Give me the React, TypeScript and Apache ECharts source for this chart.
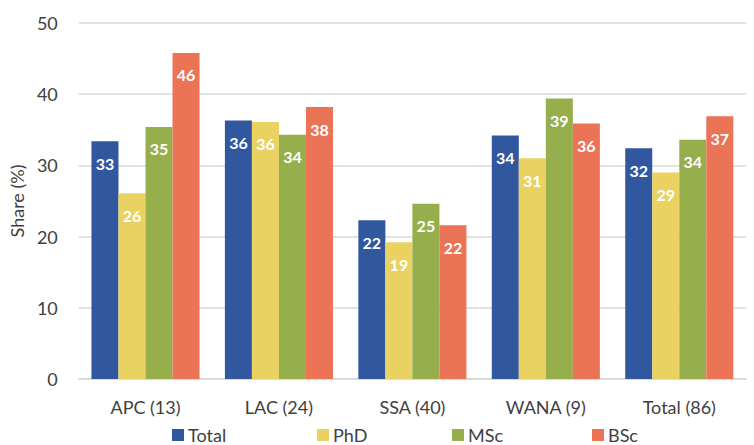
import React, { useEffect, useRef } from "react";
import * as echarts from "echarts";

const regions = ["APC (13)", "LAC (24)", "SSA (40)", "WANA (9)", "Total (86)"];
const totalShare = [33.4, 36.3, 22.3, 34.2, 32.4];
const phdShare = [26.1, 36.1, 19.2, 31.0, 29.0];
const mscShare = [35.4, 34.3, 24.6, 39.4, 33.6];
const bscShare = [45.8, 38.2, 21.6, 35.9, 36.9];

const seriesNames = ["Total", "PhD", "MSc", "BSc"];
const seriesColors = ["#31589F", "#E9D262", "#97AE4C", "#EB7356"];
const legendLeft = [172, 317, 452, 592];

const FONT = "Lato, 'Open Sans', sans-serif";
const TEXT = "#404040";

export default function App() {
  const ref = useRef<HTMLDivElement>(null);

  useEffect(() => {
    if (!ref.current) return;
    const chart = echarts.init(ref.current, undefined, { renderer: "svg" });
    const values = [totalShare, phdShare, mscShare, bscShare];

    chart.setOption({
      animation: false,
      textStyle: { fontFamily: FONT },
      grid: { left: 76, right: 8, top: 23, bottom: 66 },
      legend: seriesNames.map((name, i) => ({
        data: [name],
        top: 426,
        left: legendLeft[i],
        padding: 0,
        itemWidth: 12,
        itemHeight: 12,
        itemGap: 5,
        icon: "rect",
        selectedMode: false,
        textStyle: {
          fontSize: 18,
          lineHeight: 17,
          color: TEXT,
          fontFamily: FONT,
          padding: [0, 0, 0, -1],
        },
      })),
      xAxis: {
        type: "category",
        data: regions,
        axisTick: { show: false },
        axisLine: { lineStyle: { color: "#D9D9D9", width: 1.5 } },
        axisLabel: { fontSize: 18, color: TEXT, margin: 19, fontFamily: FONT },
      },
      yAxis: {
        type: "value",
        min: 0,
        max: 50,
        interval: 10,
        name: "Share (%)",
        nameLocation: "middle",
        nameGap: 46,
        nameRotate: 90,
        nameTextStyle: { fontSize: 18, color: TEXT, fontFamily: FONT },
        axisLabel: { fontSize: 18, color: TEXT, margin: 21, fontFamily: FONT },
        splitLine: { lineStyle: { color: "#D9D9D9", width: 1.5 } },
        axisLine: { show: false },
        axisTick: { show: false },
      },
      series: seriesNames.map((name, i) => ({
        name,
        type: "bar",
        data: values[i],
        barGap: "0%",
        barCategoryGap: "19%",
        itemStyle: { color: seriesColors[i] },
        label: {
          show: true,
          position: "insideTop",
          distance: 14,
          color: "#FFFFFF",
          fontWeight: "bold",
          fontSize: 16,
          fontFamily: FONT,
          formatter: (p: any) => String(Math.round(p.value)),
        },
      })),
    });

    return () => chart.dispose();
  }, []);

  return (
    <div
      ref={ref}
      style={{ position: "absolute", left: 0, top: 0, width: 754, height: 445 }}
    />
  );
}
